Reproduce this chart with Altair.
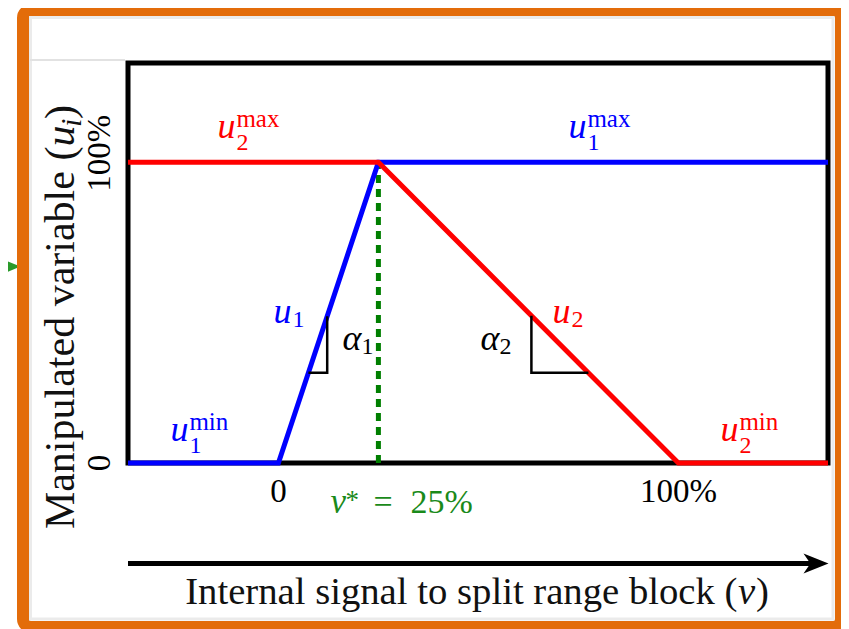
import altair as alt
import pandas as pd

# ---------------- data (in chart units: v in %, u in %) ----------------
X_DOMAIN = [-37.6, 137.4]
Y_DOMAIN = [0, 133]

blue_v = [-37.6, 0, 25, 137.4]
blue_u = [0, 0, 100, 100]
red_v = [-37.6, 25, 100, 137.4]
red_u = [100, 100, 0, 0]

vstar_v = [25]
vstar_u0 = [0]
vstar_u1 = [100]

tri1_v = [12.2, 12.2, 7.5]
tri1_u = [48.8, 30, 30]
tri2_v = [63.25, 63.25, 77.5]
tri2_u = [49, 30, 30]

# labels with super- and subscripts
sl_main = ["u", "u", "u", "u"]
sl_sub = ["2", "1", "1", "2"]
sl_sup = ["max", "max", "min", "min"]
sl_v = [-15.25, 72.5, -27, 110.5]
sl_u = [108.2, 108.2, 7.15, 7.15]
sl_col = ["#ff0000", "#0000ff", "#0000ff", "#ff0000"]

# labels with subscripts only
pl_main = ["u", "u", "α", "α"]
pl_sub = ["1", "2", "1", "2"]
pl_v = [-1.25, 68.5, 16, 50.5]
pl_u = [46.7, 46.7, 37.7, 37.7]
pl_col = ["#0000ff", "#ff0000", "#000000", "#000000"]

xtick_text = ["0", "100%"]
xtick_v = [0, 100]
xtick_u = [-13.1, -13.1]

ytick_text = ["0", "100%"]
ytick_v = [-44.5, -44.5]
ytick_u = [0, 103]

vlab_parts = ["v", "*", "=", "25%"]
vlab_v = [13, 16.8, 23.75, 33]
vlab_u = [-16.5, -16.5, -16.5, -16.5]

xtitle_main = ["Internal signal to split range block ("]
xtitle_v = [114.75]
xtitle_u = [-47.0]
xtitle_var_v = [114.9]
xtitle_close_v = [119.4]

ytitle_main = ["Manipulated variable ("]
ytitle_v = [-51]
ytitle_u = [105.2]
ytitle_var_u = [105.2]
ytitle_sub_u = [111.8]
ytitle_close_u = [114.4]

arrow_v0 = [-37.6]
arrow_v1 = [134.4]
arrow_u = [-33.4]

pointer_v = [-69.5]
pointer_u = [65.3]

FONT = "Liberation Serif"
AB = "alphabetic"

xs = alt.Scale(domain=X_DOMAIN, nice=False, zero=False)
ys = alt.Scale(domain=Y_DOMAIN, nice=False, zero=False)


def X(f):
    return alt.X(f, type="quantitative", scale=xs, axis=None)


def Y(f):
    return alt.Y(f, type="quantitative", scale=ys, axis=None)


one = pd.DataFrame({"a": [0]})

# ---------------- decorations (slide frame) ----------------
frame = alt.Chart(one).mark_rect(
    fill="white", stroke="#e36c0a", strokeWidth=12, cornerRadius=8
).encode(x=alt.value(-105), x2=alt.value(713), y=alt.value(-53), y2=alt.value(564))

inner = alt.Chart(one).mark_rect(
    fill="transparent", stroke="#ebebeb", strokeWidth=3
).encode(x=alt.value(-97.5), x2=alt.value(705), y=alt.value(-45.5), y2=alt.value(556))

grayline = alt.Chart(one).mark_rule(color="#e2e2e2", strokeWidth=2).encode(
    x=alt.value(-98), x2=alt.value(-3), y=alt.value(-3)
)

pointer = alt.Chart(pd.DataFrame({"v": pointer_v, "u": pointer_u})).mark_point(
    shape="M -1 -0.825 L 1 0 L -1 0.825 Z", size=1600, filled=True,
    color="#2a9a2a", opacity=1
).encode(x=X("v"), y=Y("u"))

# ---------------- plot box ----------------
box = alt.Chart(pd.DataFrame({"v0": [X_DOMAIN[0]], "v1": [X_DOMAIN[1]],
                              "u0": [Y_DOMAIN[0]], "u1": [Y_DOMAIN[1]]})).mark_rect(
    fill="white", stroke="black", strokeWidth=5
).encode(x=X("v0"), x2="v1", y=Y("u0"), y2="u1")

# ---------------- dashed v* line ----------------
vline = alt.Chart(pd.DataFrame({"v": vstar_v, "u0": vstar_u0, "u1": vstar_u1})).mark_rule(
    color="#007f00", strokeWidth=5, strokeDash=[8, 6]
).encode(x=X("v"), y=Y("u0"), y2="u1")

# ---------------- split-range lines ----------------
lines_df = pd.DataFrame({
    "v": blue_v + red_v,
    "u": blue_u + red_u,
    "s": ["u1"] * len(blue_v) + ["u2"] * len(red_v),
    "o": list(range(len(blue_v))) + list(range(len(red_v))),
})
lines = alt.Chart(lines_df).mark_line(strokeWidth=5, strokeJoin="miter", strokeCap="butt").encode(
    x=X("v"), y=Y("u"), order="o:Q",
    color=alt.Color("s:N", scale=alt.Scale(domain=["u2", "u1"], range=["#ff0000", "#0000ff"]), legend=None),
)

# ---------------- slope triangles ----------------
tri_df = pd.DataFrame({
    "v": tri1_v + tri2_v,
    "u": tri1_u + tri2_u,
    "t": ["a1"] * 3 + ["a2"] * 3,
    "o": [0, 1, 2, 0, 1, 2],
})
tris = alt.Chart(tri_df).mark_line(color="black", strokeWidth=2.5, strokeJoin="miter").encode(
    x=X("v"), y=Y("u"), detail="t:N", order="o:Q"
)

# ---------------- arrow ----------------
arrow = alt.Chart(pd.DataFrame({"v0": arrow_v0, "v1": arrow_v1, "u": arrow_u})).mark_rule(
    color="black", strokeWidth=5
).encode(x=X("v0"), x2="v1", y=Y("u"))
arrowhead = alt.Chart(pd.DataFrame({"v": arrow_v1, "u": arrow_u})).mark_point(
    shape="M 1 0 L -1 -0.8 L -0.45 0 L -1 0.8 Z", size=625, filled=True, color="black", opacity=1
).encode(x=X("v"), y=Y("u"))

# ---------------- math labels ----------------
sl_df = pd.DataFrame({"v": sl_v, "u": sl_u, "m": sl_main, "b": sl_sub, "p": sl_sup, "c": sl_col})
pl_df = pd.DataFrame({"v": pl_v, "u": pl_u, "m": pl_main, "b": pl_sub, "c": pl_col})

col = alt.Color("c:N", scale=None)

sl_main_t = alt.Chart(sl_df).mark_text(font=FONT, fontStyle="italic", fontSize=36, align="left", baseline=AB).encode(
    x=X("v"), y=Y("u"), text="m:N", color=col)
sl_sub_t = alt.Chart(sl_df).mark_text(font=FONT, fontSize=24, align="left", baseline=AB, dx=19, dy=12).encode(
    x=X("v"), y=Y("u"), text="b:N", color=col)
sl_sup_t = alt.Chart(sl_df).mark_text(font=FONT, fontSize=25, align="left", baseline=AB, dx=19, dy=-11).encode(
    x=X("v"), y=Y("u"), text="p:N", color=col)

pl_main_t = alt.Chart(pl_df).mark_text(font=FONT, fontStyle="italic", fontSize=36, align="left", baseline=AB).encode(
    x=X("v"), y=Y("u"), text="m:N", color=col)
pl_sub_t = alt.Chart(pl_df).mark_text(font=FONT, fontSize=24, align="left", baseline=AB, dx=19, dy=4).encode(
    x=X("v"), y=Y("u"), text="b:N", color=col)

# ---------------- tick labels ----------------
xt = alt.Chart(pd.DataFrame({"v": xtick_v, "u": xtick_u, "t": xtick_text})).mark_text(
    font=FONT, fontSize=33, align="center", baseline=AB, color="black").encode(x=X("v"), y=Y("u"), text="t:N")
yt = alt.Chart(pd.DataFrame({"v": ytick_v, "u": ytick_u, "t": ytick_text})).mark_text(
    font=FONT, fontSize=33, align="center", baseline="middle", angle=270, color="black"
).encode(x=X("v"), y=Y("u"), text="t:N")

vl_df = pd.DataFrame({"v": vlab_v, "u": vlab_u, "t": vlab_parts})
GREEN = "#1a8a1a"
vl_v = alt.Chart(vl_df.iloc[[0]]).mark_text(font=FONT, fontStyle="italic", fontSize=35, align="left",
                                            baseline=AB, color=GREEN).encode(x=X("v"), y=Y("u"), text="t:N")
vl_s = alt.Chart(vl_df.iloc[[1]]).mark_text(font=FONT, fontSize=27, align="left", baseline=AB, dy=-4,
                                            color=GREEN).encode(x=X("v"), y=Y("u"), text="t:N")
vl_r = alt.Chart(vl_df.iloc[[2, 3]]).mark_text(font=FONT, fontSize=34, align="left", baseline=AB,
                                               color=GREEN).encode(x=X("v"), y=Y("u"), text="t:N")

# ---------------- titles ----------------
TC = "#111111"
xtl = alt.Chart(pd.DataFrame({"v": xtitle_v, "u": xtitle_u, "t": xtitle_main})).mark_text(
    font=FONT, fontSize=38.7, align="right", baseline=AB, color=TC).encode(x=X("v"), y=Y("u"), text="t:N")
xtv = alt.Chart(pd.DataFrame({"v": xtitle_var_v, "u": xtitle_u, "t": ["v"]})).mark_text(
    font=FONT, fontSize=38.7, fontStyle="italic", align="left", baseline=AB, color=TC).encode(
    x=X("v"), y=Y("u"), text="t:N")
xtc = alt.Chart(pd.DataFrame({"v": xtitle_close_v, "u": xtitle_u, "t": [")"]})).mark_text(
    font=FONT, fontSize=38.7, align="left", baseline=AB, color=TC).encode(x=X("v"), y=Y("u"), text="t:N")

ytl = alt.Chart(pd.DataFrame({"v": ytitle_v, "u": ytitle_u, "t": ytitle_main})).mark_text(
    font=FONT, fontSize=42, align="right", baseline=AB, angle=270, color=TC).encode(
    x=X("v"), y=Y("u"), text="t:N")
ytv = alt.Chart(pd.DataFrame({"v": ytitle_v, "u": ytitle_var_u, "t": ["u"]})).mark_text(
    font=FONT, fontSize=42, fontStyle="italic", align="left", baseline=AB, angle=270, color=TC).encode(
    x=X("v"), y=Y("u"), text="t:N")
yts = alt.Chart(pd.DataFrame({"v": ytitle_v, "u": ytitle_sub_u, "t": ["i"]})).mark_text(
    font=FONT, fontSize=29, fontStyle="italic", align="left", baseline=AB, angle=270, dy=7, color=TC).encode(
    x=X("v"), y=Y("u"), text="t:N")
ytc = alt.Chart(pd.DataFrame({"v": ytitle_v, "u": ytitle_close_u, "t": [")"]})).mark_text(
    font=FONT, fontSize=42, align="left", baseline=AB, angle=270, color=TC).encode(
    x=X("v"), y=Y("u"), text="t:N")

chart = alt.layer(
    pointer, frame, inner, grayline, box, vline, lines, tris, arrow, arrowhead,
    sl_main_t, sl_sub_t, sl_sup_t, pl_main_t, pl_sub_t,
    xt, yt, vl_v, vl_s, vl_r, xtl, xtv, xtc, ytl, ytv, yts, ytc,
).properties(
    width=700, height=400,
    autosize=alt.AutoSizeParams(type="none"),
    padding={"left": 120, "top": 55, "right": 13, "bottom": 166},
    background="white",
).configure_view(stroke=None)

chart.save("out.html", embed_options={"renderer": "svg", "actions": False})
